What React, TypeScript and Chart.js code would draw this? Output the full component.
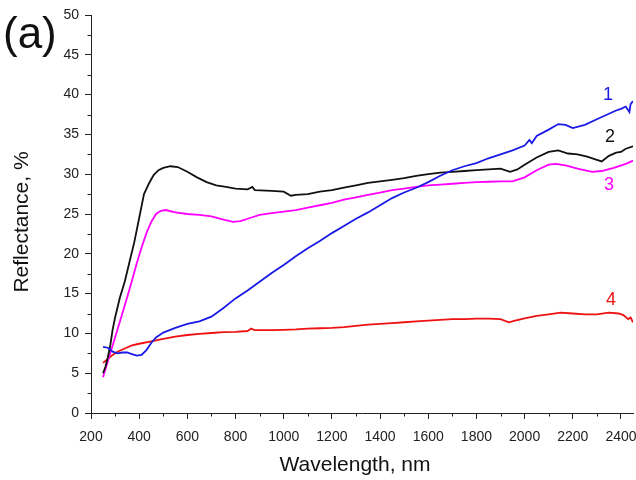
import React, { useEffect, useRef } from "react";
import { Chart, registerables } from "chart.js";

Chart.register(...registerables);

// ---- data (wavelength in nm, reflectance in %) ----
const s1Wl = [250, 270, 290, 310, 330, 350, 370, 390, 410, 430, 450, 470, 500, 550, 600, 650, 700, 750, 800, 850, 900, 950, 1000, 1050, 1100, 1150, 1200, 1250, 1300, 1350, 1400, 1450, 1500, 1550, 1600, 1650, 1700, 1750, 1800, 1850, 1900, 1950, 2000, 2020, 2030, 2050, 2100, 2140, 2170, 2200, 2250, 2300, 2350, 2380, 2400, 2420, 2435, 2440, 2450];
const s1R = [8.3, 8.2, 7.7, 7.5, 7.6, 7.6, 7.4, 7.2, 7.3, 7.9, 8.8, 9.5, 10.1, 10.7, 11.2, 11.5, 12.1, 13.2, 14.4, 15.4, 16.5, 17.6, 18.6, 19.7, 20.7, 21.6, 22.6, 23.5, 24.4, 25.2, 26.1, 27.0, 27.7, 28.3, 29.0, 29.8, 30.5, 31.0, 31.4, 32.0, 32.5, 33.0, 33.6, 34.3, 33.9, 34.8, 35.6, 36.3, 36.2, 35.8, 36.2, 36.9, 37.6, 38.0, 38.2, 38.5, 37.8, 38.8, 39.2];

const s2Wl = [250, 260, 270, 280, 290, 300, 320, 340, 360, 380, 400, 420, 440, 460, 480, 500, 530, 560, 600, 640, 680, 720, 760, 800, 850, 870, 880, 950, 1000, 1030, 1050, 1100, 1150, 1200, 1250, 1300, 1350, 1400, 1450, 1500, 1550, 1600, 1650, 1700, 1750, 1800, 1850, 1900, 1940, 1970, 2000, 2050, 2100, 2140, 2180, 2220, 2260, 2300, 2320, 2350, 2380, 2400, 2420, 2450];
const s2R = [5.0, 5.8, 7.0, 8.5, 10.5, 12.0, 14.5, 16.5, 19.0, 21.5, 24.5, 27.5, 28.8, 29.9, 30.5, 30.8, 31.0, 30.9, 30.3, 29.6, 29.0, 28.6, 28.4, 28.2, 28.1, 28.4, 28.0, 27.9, 27.8, 27.3, 27.4, 27.5, 27.8, 28.0, 28.3, 28.6, 28.9, 29.1, 29.3, 29.5, 29.8, 30.0, 30.2, 30.3, 30.4, 30.5, 30.6, 30.7, 30.3, 30.6, 31.2, 32.1, 32.8, 33.0, 32.6, 32.5, 32.2, 31.8, 31.6, 32.3, 32.7, 32.8, 33.2, 33.5];

const s3Wl = [250, 270, 290, 310, 330, 350, 370, 390, 410, 430, 450, 470, 490, 510, 550, 600, 650, 700, 750, 790, 820, 860, 900, 950, 1000, 1050, 1100, 1150, 1200, 1250, 1300, 1350, 1400, 1450, 1500, 1550, 1600, 1650, 1700, 1750, 1800, 1850, 1900, 1950, 2000, 2050, 2100, 2130, 2170, 2220, 2280, 2320, 2370, 2420, 2450];
const s3R = [4.5, 6.5, 8.5, 10.5, 12.5, 14.5, 16.6, 18.8, 20.8, 22.6, 24.0, 25.0, 25.4, 25.5, 25.2, 25.0, 24.9, 24.7, 24.3, 24.0, 24.1, 24.5, 24.9, 25.1, 25.3, 25.5, 25.8, 26.1, 26.4, 26.8, 27.1, 27.4, 27.7, 28.0, 28.2, 28.4, 28.6, 28.7, 28.8, 28.9, 29.0, 29.05, 29.1, 29.1, 29.6, 30.5, 31.2, 31.3, 31.1, 30.7, 30.3, 30.4, 30.8, 31.3, 31.7];

const s4Wl = [250, 270, 290, 310, 340, 370, 400, 450, 500, 550, 600, 650, 700, 750, 800, 850, 865, 880, 950, 1000, 1050, 1100, 1150, 1200, 1250, 1300, 1350, 1400, 1450, 1500, 1550, 1600, 1650, 1700, 1750, 1800, 1850, 1900, 1935, 1960, 2000, 2050, 2100, 2150, 2200, 2250, 2300, 2350, 2390, 2410, 2430, 2440, 2450];
const s4R = [6.3, 6.8, 7.3, 7.7, 8.1, 8.5, 8.7, 9.0, 9.3, 9.6, 9.8, 9.95, 10.05, 10.15, 10.2, 10.3, 10.6, 10.4, 10.4, 10.45, 10.5, 10.6, 10.65, 10.7, 10.8, 10.95, 11.1, 11.2, 11.3, 11.4, 11.5, 11.6, 11.7, 11.8, 11.8, 11.85, 11.85, 11.8, 11.4, 11.6, 11.9, 12.2, 12.4, 12.6, 12.5, 12.4, 12.4, 12.6, 12.5, 12.3, 11.8, 12.0, 11.4];

const seriesColors = ["#1a1ae6", "#111111", "#ff00ff", "#ee1111"];
const seriesLabels = ["1", "2", "3", "4"];
const labelWl = [2346, 2355, 2350, 2359];
const labelR = [40.0, 34.7, 28.6, 14.2];

const yMinorTicks = [2.5, 7.5, 12.5, 17.5, 22.5, 27.5, 32.5, 37.5, 42.5, 47.5];
const xMinorTicks = [300, 500, 700, 900, 1100, 1300, 1500, 1700, 1900, 2100, 2300];

const xTitle = "Wavelength, nm";
const yTitle = "Reflectance, %";
const panelLabel = "(a)";

const FONT = '"Liberation Sans", Arial, sans-serif';

function toPoints(xs: number[], ys: number[]) {
  return xs.map((x, i) => ({ x, y: ys[i] }));
}

const decoPlugin = {
  id: "deco",
  afterDraw(chart: any) {
    const { ctx, chartArea } = chart;
    const x = chart.scales.x;
    const y = chart.scales.y;
    ctx.save();
    ctx.strokeStyle = "#222";
    ctx.lineWidth = 1;
    for (const v of yMinorTicks) {
      const py = Math.round(y.getPixelForValue(v)) + 0.5;
      ctx.beginPath();
      ctx.moveTo(chartArea.left - 3.5, py);
      ctx.lineTo(chartArea.left, py);
      ctx.stroke();
    }
    for (const v of xMinorTicks) {
      const px = Math.round(x.getPixelForValue(v)) + 0.5;
      ctx.beginPath();
      ctx.moveTo(px, chartArea.bottom);
      ctx.lineTo(px, chartArea.bottom + 3.5);
      ctx.stroke();
    }
    // series labels
    ctx.font = `18px ${FONT}`;
    ctx.textAlign = "center";
    ctx.textBaseline = "middle";
    seriesLabels.forEach((t, i) => {
      ctx.fillStyle = seriesColors[i];
      ctx.fillText(t, x.getPixelForValue(labelWl[i]), y.getPixelForValue(labelR[i]));
    });
    // axis titles
    ctx.fillStyle = "#111";
    ctx.font = `21px ${FONT}`;
    ctx.fillText(xTitle, 355, 465);
    ctx.save();
    ctx.translate(22, 222);
    ctx.rotate(-Math.PI / 2);
    ctx.fillText(yTitle, 0, 0);
    ctx.restore();
    // panel label
    ctx.font = `44px ${FONT}`;
    ctx.textAlign = "left";
    ctx.textBaseline = "alphabetic";
    ctx.fillText(panelLabel, 3, 48);
    ctx.restore();
  },
};

export default function App() {
  const ref = useRef<HTMLCanvasElement | null>(null);
  useEffect(() => {
    document.body.style.margin = "0";
    const canvas = ref.current!;
    const datasets = [
      toPoints(s1Wl, s1R),
      toPoints(s2Wl, s2R),
      toPoints(s3Wl, s3R),
      toPoints(s4Wl, s4R),
    ].map((data, i) => ({
      data,
      borderColor: seriesColors[i],
      borderWidth: 1.8,
      pointRadius: 0,
      fill: false,
      tension: 0,
    }));
    const chart = new Chart(canvas, {
      type: "line",
      data: { datasets },
      options: {
        responsive: false,
        animation: false,
        layout: { padding: { left: 0, right: 3, top: 15, bottom: 0 } },
        plugins: { legend: { display: false }, tooltip: { enabled: false } },
        scales: {
          x: {
            type: "linear",
            min: 200,
            max: 2450,
            afterFit: (s: any) => {
              s.height = 67;
              s.paddingRight = 0;
            },
            ticks: {
              stepSize: 200,
              includeBounds: false,
              padding: 10,
              color: "#222",
              font: { family: FONT, size: 14 },
              maxRotation: 0,
              autoSkip: false,
              callback: (v: any) => String(v),
            },
            grid: { display: true, drawOnChartArea: false, tickLength: 6, color: "#222", lineWidth: 1 },
            border: { display: true, color: "#222", width: 1 },
          },
          y: {
            type: "linear",
            min: 0,
            max: 50,
            afterFit: (s: any) => {
              s.width = 91;
            },
            ticks: {
              stepSize: 5,
              padding: 6,
              color: "#222",
              font: { family: FONT, size: 14 },
              callback: (v: any) => String(v),
            },
            grid: { display: true, drawOnChartArea: false, tickLength: 6, color: "#222", lineWidth: 1 },
            border: { display: true, color: "#222", width: 1 },
          },
        },
      },
      plugins: [decoPlugin],
    });
    return () => chart.destroy();
  }, []);
  return (
    <div style={{ width: 636, height: 480, background: "#fff" }}>
      <canvas ref={ref} width={636} height={480} />
    </div>
  );
}
